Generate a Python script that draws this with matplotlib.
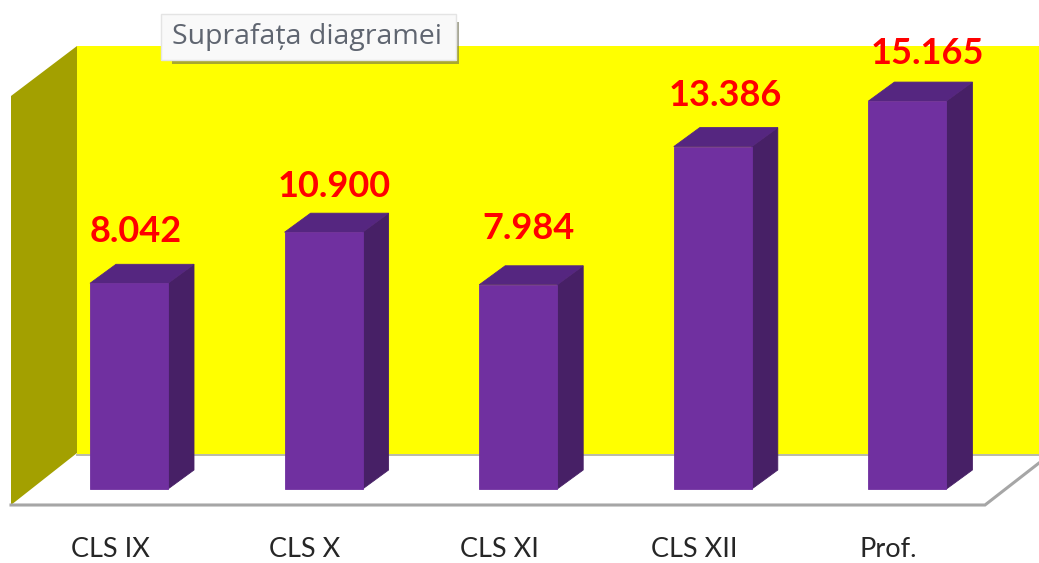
import matplotlib
matplotlib.use("Agg")
import matplotlib.pyplot as plt
from matplotlib.patches import Polygon, FancyBboxPatch

categories = ["CLS IX", "CLS X", "CLS XI", "CLS XII", "Prof."]
bar_values = [8042, 10040, 7984, 13386, 15165]   # heights as drawn in the picture
value_labels = ["8.042", "10.900", "7.984", "13.386", "15.165"]
tooltip_text = "Suprafața diagramei"

W, H = 1039, 563
X0, DX = 129.0, 194.6      # pixel centre of first bar, category spacing
Y0, SY = 489.0, 0.02558    # pixel of value 0, pixels per unit

fig = plt.figure(figsize=(W / 100, H / 100), dpi=100, facecolor="white")
ax = fig.add_axes([0, 0, 1, 1])
ax.set_xlim((0 - X0) / DX, (W - X0) / DX)
ax.set_ylim((Y0 - H) / SY, Y0 / SY)
ax.axis("off")


def P(pts):
    """Pixel positions (decor) to data coordinates."""
    return [((x - X0) / DX, (Y0 - y) / SY) for x, y in pts]


# walls and floor
ax.add_patch(Polygon(P([(77, 46), (1039, 46), (1039, 454), (77, 454)]), fc="#FFFF00", ec="none", zorder=1))
ax.add_patch(Polygon(P([(11, 96), (77, 46), (77, 453), (11, 505)]), fc="#A3A000", ec="none", zorder=2))
ax.plot(*zip(*P([(77, 454.5), (1039, 454.5)])), color="#B4B4A0", lw=1.3, zorder=2)
ax.plot(*zip(*P([(11, 505), (985, 505), (1039, 463)])), color="#A6A6A6", lw=2.2,
        solid_joinstyle="miter", zorder=2)

# bars
width = 78 / DX
depth_x = 26 / DX
depth_y = 19 / SY
label_dx = [7, 11, 10, 13, 20]
label_dy = [52, 46, 56, 51, 48]
for i, (v, lab) in enumerate(zip(bar_values, value_labels)):
    l, r = i - width / 2, i + width / 2
    ax.add_patch(Polygon([(r, 0), (r + depth_x, depth_y), (r + depth_x, v + depth_y), (r, v)],
                         fc="#472066", ec="#472066", lw=0.6, zorder=3))
    ax.add_patch(Polygon([(l, v), (r, v), (r + depth_x, v + depth_y), (l + depth_x, v + depth_y)],
                         fc="#552680", ec="#552680", lw=0.6, zorder=3))
    ax.bar(i, v, width=width, color="#7030A0", edgecolor="#7030A0", lw=0.6, zorder=4)
    ax.annotate(lab, (i, v), xytext=(label_dx[i] * 0.72, label_dy[i] * 0.72), textcoords="offset points",
                ha="center", va="center", color="#FF0000", fontsize=26, fontweight="bold",
                family="Lato", zorder=6)
    ax.annotate(categories[i], (i, 0), xytext=(-19 * 0.72, -60.5 * 0.72), textcoords="offset points",
                ha="center", va="center", color="#262626", fontsize=19.5, family="Lato", zorder=6)

# tooltip
(sx0, sy0), (sx1, sy1) = P([(172, 64)])[0], P([(459, 22)])[0]
ax.add_patch(FancyBboxPatch((sx0, sy0), sx1 - sx0, sy1 - sy0, boxstyle="square,pad=0",
                            fc="#6E6E50", ec="none", alpha=0.6, zorder=7))
(bx0, by0), (bx1, by1) = P([(161, 60)])[0], P([(456, 14)])[0]
ax.add_patch(FancyBboxPatch((bx0, by0), bx1 - bx0, by1 - by0, boxstyle="square,pad=0",
                            fc="#F9F9F9", ec="#E4E4E4", lw=1, zorder=8))
tx, ty = P([(307, 37)])[0]
ax.text(tx, ty, tooltip_text, ha="center", va="center", fontsize=20.5, color="#5F6570",
        family="Open Sans", zorder=9)

fig.savefig("out.png", dpi=100)
